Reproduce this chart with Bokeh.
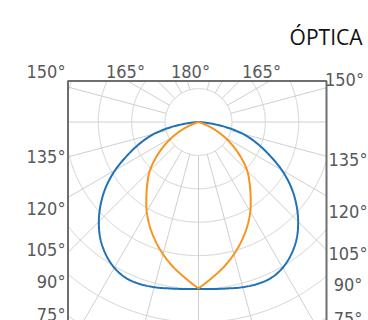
import numpy as np
from bokeh.plotting import figure
from bokeh.models import Range1d
from bokeh.core.properties import value
from bokeh.embed import file_html
from bokeh.resources import INLINE

# ---------------- data ----------------
title_text = "ÓPTICA"
gamma_deg = [0, 5, 10, 15, 20, 25, 30, 35, 40, 45, 50, 55, 60, 65, 70, 75, 80, 85, 90]
blue_cd = [500, 502, 506, 512, 516, 515, 504, 484, 457, 422, 382, 338, 288, 234, 186, 138, 76, 15, 0]
orange_cd = [498, 468, 440, 410, 378, 345, 310, 272, 238, 206, 167, 128, 90, 52, 15, 0, 0, 0, 0]
ring_cd = [100, 200, 300, 400, 500, 600, 700]
spoke_deg = [-165, -150, -135, -120, -105, -90, -75, -60, -45, -30, -15, 0,
             15, 30, 45, 60, 75, 90, 105, 120, 135, 150, 165]
left_labels = ["150°", "135°", "120°", "105°", "90°", "75°"]
top_labels = ["165°", "180°", "165°"]
right_labels = ["150°", "135°", "120°", "105°", "90°", "75°"]

# ---------------- layout ----------------
W, H = 368, 320
K = 0.334               # px per cd unit
CX, CY = 198.0, 121.5   # polar centre in page px
def X(px):  # page px -> data
    return (px - CX) / K
def Y(py):
    return (CY - py) / K

BOX_L, BOX_R, BOX_T, BOX_B = X(67.5), X(326), Y(80.5), Y(400)

p = figure(width=W, height=H, output_backend="svg", toolbar_location=None,
           x_range=Range1d(X(0), X(W)), y_range=Range1d(Y(H), Y(0)),
           min_border=0, outline_line_color=None, background_fill_color="white",
           border_fill_color="white")
p.axis.visible = False
p.grid.visible = False

GRID = "#cfcfcf"
th = np.linspace(0, 2 * np.pi, 1441)
for r in ring_cd:
    xs = r * np.sin(th)
    ys = -r * np.cos(th)
    m = (xs < BOX_L) | (xs > BOX_R) | (ys > BOX_T) | (ys < BOX_B)
    p.line(np.where(m, np.nan, xs), np.where(m, np.nan, ys), line_color=GRID, line_width=1)

r0 = ring_cd[0]
sx, sy = [], []
for g in spoke_deg:
    a = np.radians(g)
    dx, dy = -np.sin(a), -np.cos(a)
    cands = [2000.0]
    if dx > 1e-9:
        cands.append(BOX_R / dx)
    if dx < -1e-9:
        cands.append(BOX_L / dx)
    if dy > 1e-9:
        cands.append(BOX_T / dy)
    r1 = min(cands)
    sx.append([r0 * dx, r1 * dx])
    sy.append([r0 * dy, r1 * dy])
p.multi_line(sx, sy, line_color=GRID, line_width=1)

p.line([BOX_L, BOX_L, BOX_R, BOX_R], [BOX_B, BOX_T, BOX_T, BOX_B],
       line_color="#6d6e70", line_width=2)

def smooth(g, r, cusp=False, n=12):
    g = np.asarray(g, float); r = np.asarray(r, float)
    gp = np.concatenate([[2 * g[0] - g[1]], g, [2 * g[-1] - g[-2]]])
    start = 2 * r[0] - r[1] if cusp else r[1]
    rp = np.concatenate([[start], r, [r[-1]]])
    og, orr = [], []
    for i in range(1, len(gp) - 2):
        t = np.linspace(0, 1, n, endpoint=False)
        p0, p1, p2, p3 = rp[i - 1], rp[i], rp[i + 1], rp[i + 2]
        rr = 0.5 * ((2 * p1) + (-p0 + p2) * t + (2 * p0 - 5 * p1 + 4 * p2 - p3) * t ** 2
                    + (-p0 + 3 * p1 - 3 * p2 + p3) * t ** 3)
        og.extend(gp[i] + (gp[i + 1] - gp[i]) * t)
        orr.extend(rr)
    og.append(g[-1]); orr.append(r[-1])
    return np.array(og), np.maximum(np.array(orr), 0)

def curve_xy(g, r, cusp=False):
    gg, rr = smooth(g, r, cusp)
    a = np.radians(gg)
    xr, yr = rr * np.sin(a), -rr * np.cos(a)
    return np.concatenate([-xr[::-1], xr[1:]]), np.concatenate([yr[::-1], yr[1:]])

bx, by = curve_xy(gamma_deg, blue_cd)
ox, oy = curve_xy(gamma_deg, orange_cd, cusp=True)
p.line(bx, by, line_color="#1f72b8", line_width=2)
p.line(ox, oy, line_color="#f7941d", line_width=2)

LFONT = value("DejaVu Sans Condensed")
LSIZE = "18px"
LCOL = "#58595b"
left_y = [71, 155.5, 207.5, 249, 280.5, 314]
p.text([X(65)] * len(left_labels), [Y(v) for v in left_y], text=left_labels,
       text_font=LFONT, text_font_size=LSIZE, text_color=LCOL,
       text_align="right", text_baseline="middle")
top_x = [125, 190, 261]
p.text([X(v) for v in top_x], [Y(71)] * 3, text=top_labels,
       text_font=LFONT, text_font_size=LSIZE, text_color=LCOL,
       text_align="center", text_baseline="middle")
right_y = [79, 159, 210.5, 252.5, 284, 317.5]
right_x = [344, 347.5, 347.5, 347.5, 347.5, 347.5]
p.text([X(v) for v in right_x], [Y(v) for v in right_y], text=right_labels,
       text_font=LFONT, text_font_size=LSIZE, text_color=LCOL,
       text_align="center", text_baseline="middle")

p.text([X(362)], [Y(36)], text=[title_text], text_font=value("Open Sans"),
       text_font_size="21px", text_color="#111111", text_align="right",
       text_baseline="alphabetic")

open("out.html", "w").write(file_html(p, INLINE))
